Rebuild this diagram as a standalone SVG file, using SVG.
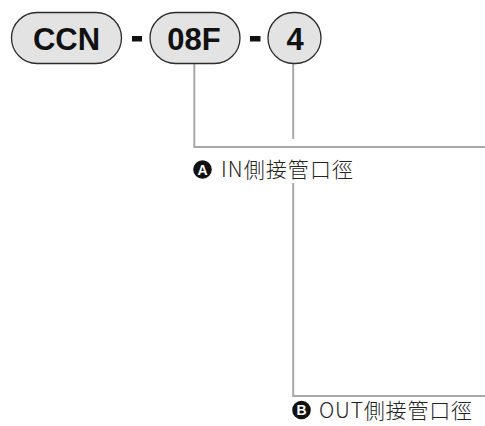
<svg xmlns="http://www.w3.org/2000/svg" width="485" height="426" viewBox="0 0 485 426">
  <style>
    .pill { fill: #e3e3e3; stroke: #2b2b2b; stroke-width: 1.3; }
    .code { font-family: "Liberation Sans", Arial, sans-serif; font-weight: bold; font-size: 31px; fill: #111; text-anchor: middle; }
    .dash { fill: #111; }
    .conn { fill: none; stroke: #a8a8a8; stroke-width: 2; }
    .badge { fill: #111; }
    .badgetxt { font-family: "Liberation Sans", Arial, sans-serif; font-weight: bold; font-size: 14px; fill: #fff; text-anchor: middle; }
    .label { font-family: "Noto Sans CJK JP", "Noto Sans CJK TC", sans-serif; font-weight: 300; font-size: 21px; fill: #222; }
  </style>
  <rect width="485" height="426" fill="#fff"/>
  <g id="connectors">
    <polyline class="conn" points="194.3,64 194.3,147 485,147"/>
    <polyline class="conn" points="293.2,63 293.2,139"/>
    <polyline class="conn" points="293.2,183 293.2,396 485,396"/>
  </g>
  <g id="node-ccn">
    <rect class="pill" x="11.5" y="12.5" width="110" height="51" rx="25.5"/>
    <text class="code" x="66.5" y="49.5">CCN</text>
  </g>
  <g id="dash1"><rect class="dash" x="132" y="36" width="10" height="5.5"/></g>
  <g id="node-08f">
    <rect class="pill" x="150" y="12.5" width="90" height="51" rx="25.5"/>
    <text class="code" x="194" y="49.5">08F</text>
  </g>
  <g id="dash2"><rect class="dash" x="250" y="36" width="10.5" height="5.5"/></g>
  <g id="node-4">
    <rect class="pill" x="268" y="12.5" width="53" height="51" rx="25.5"/>
    <text class="code" x="295" y="49.5">4</text>
  </g>
  <g id="label-a">
    <circle class="badge" cx="202.5" cy="169.5" r="9.3"/>
    <text class="badgetxt" x="202.5" y="174.6">A</text>
    <text class="label" x="221" y="177" textLength="132" lengthAdjust="spacing">IN側接管口徑</text>
  </g>
  <g id="label-b">
    <circle class="badge" cx="301.5" cy="410" r="9.3"/>
    <text class="badgetxt" x="301.5" y="415.1">B</text>
    <text class="label" x="319" y="417.5" textLength="153" lengthAdjust="spacing">OUT側接管口徑</text>
  </g>
</svg>
